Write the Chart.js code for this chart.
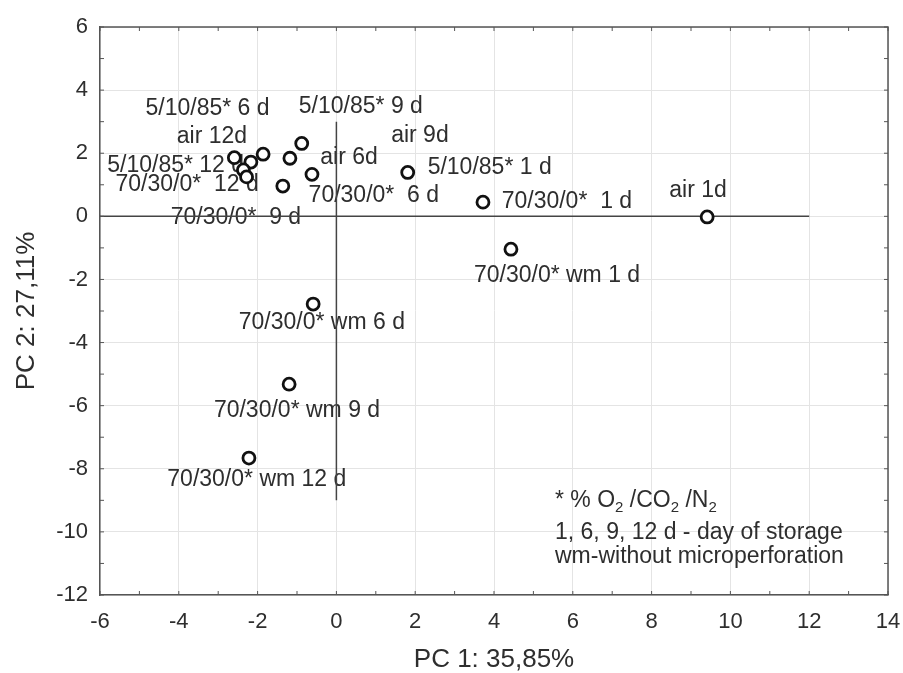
<!DOCTYPE html>
<html>
<head>
<meta charset="utf-8">
<script src="https://cdn.jsdelivr.net/npm/chart.js@4.4.0/dist/chart.umd.min.js"></script>
<style>
  html, body { margin: 0; padding: 0; background: #fff; }
  #wrap { width: 903px; height: 673px; }
</style>
</head>
<body>
<div id="wrap"><canvas id="pca"></canvas></div>
<script>
// sample names, scores and where each name is written (PC units)
const pointNames = [
  "air 12d", "5/10/85* 6 d", "5/10/85* 12 d", "70/30/0*  12 d", "air 6d",
  "5/10/85* 9 d", "air 9d", "70/30/0*  6 d", "70/30/0*  9 d", "5/10/85* 1 d",
  "70/30/0*  1 d", "air 1d", "70/30/0* wm 1 d", "70/30/0* wm 6 d",
  "70/30/0* wm 9 d", "70/30/0* wm 12 d"
];
const pc1 = [-2.59, -2.17, -2.36, -2.28, -1.18, -0.88, -1.86, -0.62, -1.36, 1.81, 3.72, 9.41, 4.43, -0.59, -1.20, -2.22];
const pc2 = [1.86, 1.72, 1.47, 1.25, 1.84, 2.31, 1.97, 1.33, 0.96, 1.39, 0.45, -0.02, -1.04, -2.78, -5.32, -7.66];
const labelPc1 = [-3.16, -3.27, -4.08, -3.79, 0.32, 0.62, 2.12, 0.95, -2.55, 3.89, 5.85, 9.18, 5.60, -0.37, -1.00, -2.02];
const labelPc2 = [2.51, 3.40, 1.62, 0.99, 1.85, 3.46, 2.57, 0.64, -0.05, 1.53, 0.48, 0.80, -1.89, -3.38, -6.17, -8.35];

const xTicks = [-6, -4, -2, 0, 2, 4, 6, 8, 10, 12, 14];
const yTicks = [-12, -10, -8, -6, -4, -2, 0, 2, 4, 6];

// the two reference lines through the origin
const hLineX = [-6, 12];
const hLineY = [0, 0];
const vLineX = [0, 0];
const vLineY = [3, -9];

const xTitle = "PC 1: 35,85%";
const yTitle = "PC 2: 27,11%";

const FONT = "'Liberation Sans', Arial, sans-serif";
const TEXT = "#2e2e2e";

const labelPlugin = {
  id: "pointLabels",
  beforeDatasetsDraw(chart) {
    const { ctx, scales } = chart;
    ctx.save();
    ctx.font = "23px " + FONT;
    ctx.fillStyle = TEXT;
    ctx.textAlign = "center";
    ctx.textBaseline = "middle";
    pointNames.forEach(function (name, i) {
      ctx.fillText(name, scales.x.getPixelForValue(labelPc1[i]), scales.y.getPixelForValue(labelPc2[i]));
    });
    ctx.restore();
  },
};

const framePlugin = {
  id: "frame",
  afterDatasetsDraw(chart) {
    const { ctx, chartArea: a, scales } = chart;
    ctx.save();
    ctx.strokeStyle = "#555";
    ctx.lineWidth = 1.5;
    ctx.beginPath();
    ctx.moveTo(a.left, a.top);
    ctx.lineTo(a.right, a.top);
    ctx.lineTo(a.right, a.bottom);
    ctx.stroke();
    // small inward ticks at every unit
    ctx.lineWidth = 1;
    ctx.beginPath();
    for (let v = xTicks[0]; v <= xTicks[xTicks.length - 1]; v++) {
      const px = scales.x.getPixelForValue(v);
      ctx.moveTo(px, a.bottom); ctx.lineTo(px, a.bottom - 4);
      ctx.moveTo(px, a.top); ctx.lineTo(px, a.top + 4);
    }
    for (let v = yTicks[0]; v <= yTicks[yTicks.length - 1]; v++) {
      const py = scales.y.getPixelForValue(v);
      ctx.moveTo(a.left, py); ctx.lineTo(a.left + 4, py);
      ctx.moveTo(a.right, py); ctx.lineTo(a.right - 4, py);
    }
    ctx.stroke();
    ctx.restore();
  },
};

function drawParts(ctx, parts, x, y) {
  parts.forEach(function (p) {
    ctx.font = (p[1] ? "15px " : "23px ") + FONT;
    ctx.fillText(p[0], x, p[1] ? y + 5 : y);
    x += ctx.measureText(p[0]).width;
  });
}

const notePlugin = {
  id: "note",
  afterDraw(chart) {
    const { ctx, chartArea: a } = chart;
    const x = a.left + 455;
    ctx.save();
    ctx.fillStyle = TEXT;
    ctx.textAlign = "left";
    ctx.textBaseline = "alphabetic";
    drawParts(ctx, [["* % O", 0], ["2", 1], [" /CO", 0], ["2", 1], [" /N", 0], ["2", 1]], x, a.top + 480);
    ctx.font = "23px " + FONT;
    ctx.fillText("1, 6, 9, 12 d - day of storage", x, a.top + 512);
    ctx.fillText("wm-without microperforation", x, a.top + 536);
    ctx.restore();
  },
};

new Chart(document.getElementById("pca"), {
  type: "scatter",
  data: {
    datasets: [
      {
        data: pc1.map((v, i) => ({ x: v, y: pc2[i] })),
        pointStyle: "circle",
        pointRadius: 6,
        borderWidth: 2.8,
        borderColor: "#111",
        backgroundColor: "#fff",
      },
      {
        data: hLineX.map((v, i) => ({ x: v, y: hLineY[i] })),
        showLine: true,
        borderColor: "#444",
        borderWidth: 1.5,
        pointRadius: 0,
      },
      {
        data: vLineX.map((v, i) => ({ x: v, y: vLineY[i] })),
        showLine: true,
        borderColor: "#444",
        borderWidth: 1.5,
        pointRadius: 0,
      },
    ],
  },
  options: {
    responsive: true,
    maintainAspectRatio: false,
    animation: false,
    events: [],
    layout: { padding: { top: 27, right: 15, left: 0, bottom: 0 } },
    scales: {
      x: {
        min: xTicks[0],
        max: xTicks[xTicks.length - 1],
        ticks: { stepSize: 2, color: TEXT, font: { family: FONT, size: 22 }, padding: 14, maxRotation: 0 },
        grid: { color: "#e4e4e4", drawTicks: false },
        border: { color: "#555", width: 1.5 },
        title: { display: true, text: xTitle, color: TEXT, font: { family: FONT, size: 26, lineHeight: 1.0 }, padding: 0 },
        afterFit(scale) {
          scale.height = 78;
          scale.paddingLeft = 0;
          scale.paddingRight = 0;
        },
      },
      y: {
        min: yTicks[0],
        max: yTicks[yTicks.length - 1],
        ticks: { stepSize: 2, color: TEXT, font: { family: FONT, size: 22 }, padding: 12 },
        grid: { color: "#e4e4e4", drawTicks: false },
        border: { color: "#555", width: 1.5 },
        title: { display: true, text: yTitle, color: TEXT, font: { family: FONT, size: 26, lineHeight: 1.1 }, padding: { top: 13, bottom: 0 } },
        afterFit(scale) {
          scale.width = 100;
          scale.paddingTop = 0;
          scale.paddingBottom = 0;
        },
      },
    },
    plugins: {
      legend: { display: false },
      tooltip: { enabled: false },
    },
  },
  plugins: [labelPlugin, framePlugin, notePlugin],
});
</script>
</body>
</html>
